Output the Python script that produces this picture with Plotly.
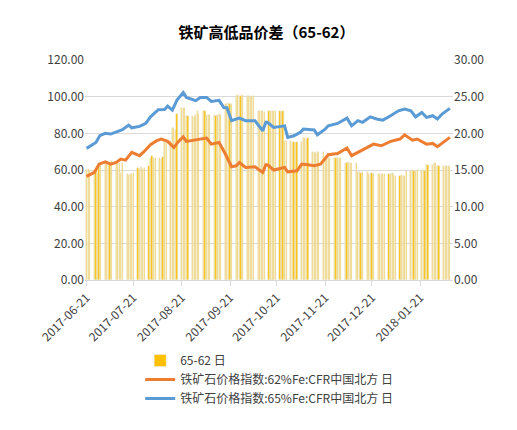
import pandas as pd
import plotly.graph_objects as go

start = pd.Timestamp("2017-06-21")

# 65-62 spread, one value per business day (right axis)
spread = [15, 15.2, 14.8,
          15, 15, 14.5, 15.5, 16,
          16.2, 16, 15.8, 16, 16.2,
          16, 15.8, 16, 14.6, 16,
          14.5, 14.3, 14.5, 14.4, 14.6,
          15.3, 15.2, 15.4, 15.1, 15.3,
          15.5, 16.7, 16.9, 16.6, 16.7,
          16.7, 16.5, 16.8, 18.8, 18.7,
          19, 20.7, 20.7, 20.5, 22.7,
          23.5, 23.5, 23.5, 22.3, 22.3,
          22.3, 22.2, 22.5, 23, 22.6,
          23, 23, 22.5, 22.5, 22.5,
          22.5, 22.4, 22.5, 22.6, 22.5,
          24, 24, 24.1, 24, 24,
          25.1, 25.2, 25.1, 25.1, 25.2,
          25.1, 25.1, 25, 25.1, 25.1,
          23, 23, 23.1, 23, 22.9,
          23, 23, 23.1, 23, 23,
          23, 22.9, 23, 19, 19,
          19, 18.8, 18.8, 18.7, 18.8,
          18.8, 19.3, 19.3, 19.2, 19.3,
          17.4, 17.4, 17.3, 17.4, 17.4,
          17.4, 16.7, 16.7, 16.6, 16.7,
          16.7, 16.7, 16.6, 16.7, 16.7,
          16, 16, 16.1, 16, 16,
          16, 14.7, 14.7, 14.6, 14.7,
          14.7, 14.5, 14.5, 14.6, 14.5,
          14.5, 14.5, 14.4, 14.5, 14.5,
          14.5, 14.5, 14.6, 14.5, 14.2,
          14.2, 14.3, 14.2, 14.2, 14.9,
          14.9, 15, 14.9, 14.9, 15,
          14.9, 15, 14.9, 15.7, 15.7,
          15.7, 16, 16, 15.5, 15.5,
          15.5, 15.5, 15.6, 15.5, 15.5]
spread_dates = pd.bdate_range(start, periods=len(spread))

# index lines: day offsets from 2017-06-21 and values (left axis)
blue_days = [0, 6, 8.5, 12, 15.5, 19, 23, 27, 29, 34, 38, 41, 46, 50, 52, 55, 58, 62, 64, 70,
             73, 77, 80, 85, 88, 90, 93, 98, 102, 108, 113, 115, 116, 120, 127, 129, 133, 137,
             139, 146, 148, 153, 155, 161, 167, 170, 174, 177, 182, 186, 190, 195, 200, 204,
             208, 211, 215, 218, 222, 225, 228, 233]
blue_vals = [71.8, 75, 78.7, 80, 79.6, 80.9, 82, 84.5, 83, 83.8, 85.4, 89, 92.9, 93, 94.9, 92.7,
             98.1, 102.3, 99.6, 97.8, 99.6, 99.6, 97.4, 98, 94.1, 94, 86.9, 88.3, 86.9, 86.9,
             81.4, 86, 86, 83.2, 84.1, 77.8, 78.7, 80.5, 82.3, 81.8, 79.2, 82.3, 84.1, 85.4,
             88.3, 84.1, 86.9, 86, 89, 87.8, 87.2, 89.6, 92.3, 93.2, 92.3, 89, 91.4, 88.7,
             89.6, 87.8, 90.5, 93.6]
orange_days = [0, 5, 8, 12, 15.5, 19, 22, 25, 29, 34, 37, 41, 45, 48, 52, 56, 59, 62, 64, 70,
               77, 80, 85, 89, 93, 96, 98, 102, 108, 113, 115, 116, 120, 127, 129, 135, 138,
               142, 146, 150, 155, 161, 167, 170, 174, 180, 184, 189, 195, 201, 204, 209, 212,
               218, 222, 225, 233]
orange_vals = [56.5, 58.7, 63.2, 64.5, 63.2, 64.1, 66, 65.4, 69.6, 67.8, 70.1, 73.8, 76, 76.9,
               75.6, 72.3, 75.6, 78.1, 75.6, 76.3, 77.4, 74.1, 75, 68.7, 61.8, 62.3, 64.1, 61.4,
               61.8, 58.7, 62.9, 62.9, 60, 61.4, 59, 59.6, 63.2, 62.9, 62.3, 63.2, 68.3, 69,
               72, 67.8, 69.6, 72, 74.1, 73.2, 75.6, 76.9, 79.2, 76.3, 76.9, 74.1, 74.5, 72.7,
               77.8]

tick_dates = ["2017-06-21", "2017-07-21", "2017-08-21", "2017-09-21", "2017-10-21",
              "2017-11-21", "2017-12-21", "2018-01-21"]

blue_x = [start + pd.Timedelta(days=d) for d in blue_days]
orange_x = [start + pd.Timedelta(days=d) for d in orange_days]

fig = go.Figure()
# bars on the first y axis (drawn right), lines on the overlaying axis so they sit on top
fig.add_bar(x=spread_dates, y=spread, name="65-62 日", marker_color="#FFC000",
            width=86400000 * 0.75, yaxis="y")
fig.add_scatter(x=orange_x, y=orange_vals, mode="lines", name="铁矿石价格指数:62%Fe:CFR中国北方 日",
                line=dict(color="#ED7D31", width=3), yaxis="y2")
fig.add_scatter(x=blue_x, y=blue_vals, mode="lines", name="铁矿石价格指数:65%Fe:CFR中国北方 日",
                line=dict(color="#5B9BD5", width=3), yaxis="y2")

tf = dict(size=12, color="#404040")
fig.update_layout(
    width=517, height=430,
    margin=dict(l=77, r=72, t=52, b=158, autoexpand=False),
    paper_bgcolor="white", plot_bgcolor="white",
    font=dict(family="Noto Sans CJK SC", size=12, color="#404040"),
    title=dict(text="<b>铁矿高低品价差（65-62）</b>", x=0.5, xanchor="center", y=0.955,
               font=dict(size=15, color="#000000")),
    bargap=0,
    xaxis=dict(range=[start - pd.Timedelta(days=1), start + pd.Timedelta(days=235)],
               tickvals=tick_dates, ticktext=tick_dates, tickangle=-45,
               showline=True, linecolor="#d9d9d9", ticks="outside", tickcolor="#d9d9d9",
               showgrid=False, tickfont=tf),
    yaxis=dict(range=[0, 30], dtick=5, tickformat=".2f", side="right", gridcolor="#d9d9d9",
               zeroline=False, tickfont=tf),
    yaxis2=dict(range=[0, 120], dtick=20, tickformat=".2f", overlaying="y", side="left",
                showgrid=False, zeroline=False, tickfont=tf),
    legend=dict(x=0.15, y=-0.3, xanchor="left", yanchor="top", traceorder="normal",
                font=tf, itemwidth=30, tracegroupgap=6),
)
fig.write_html("out.html")
